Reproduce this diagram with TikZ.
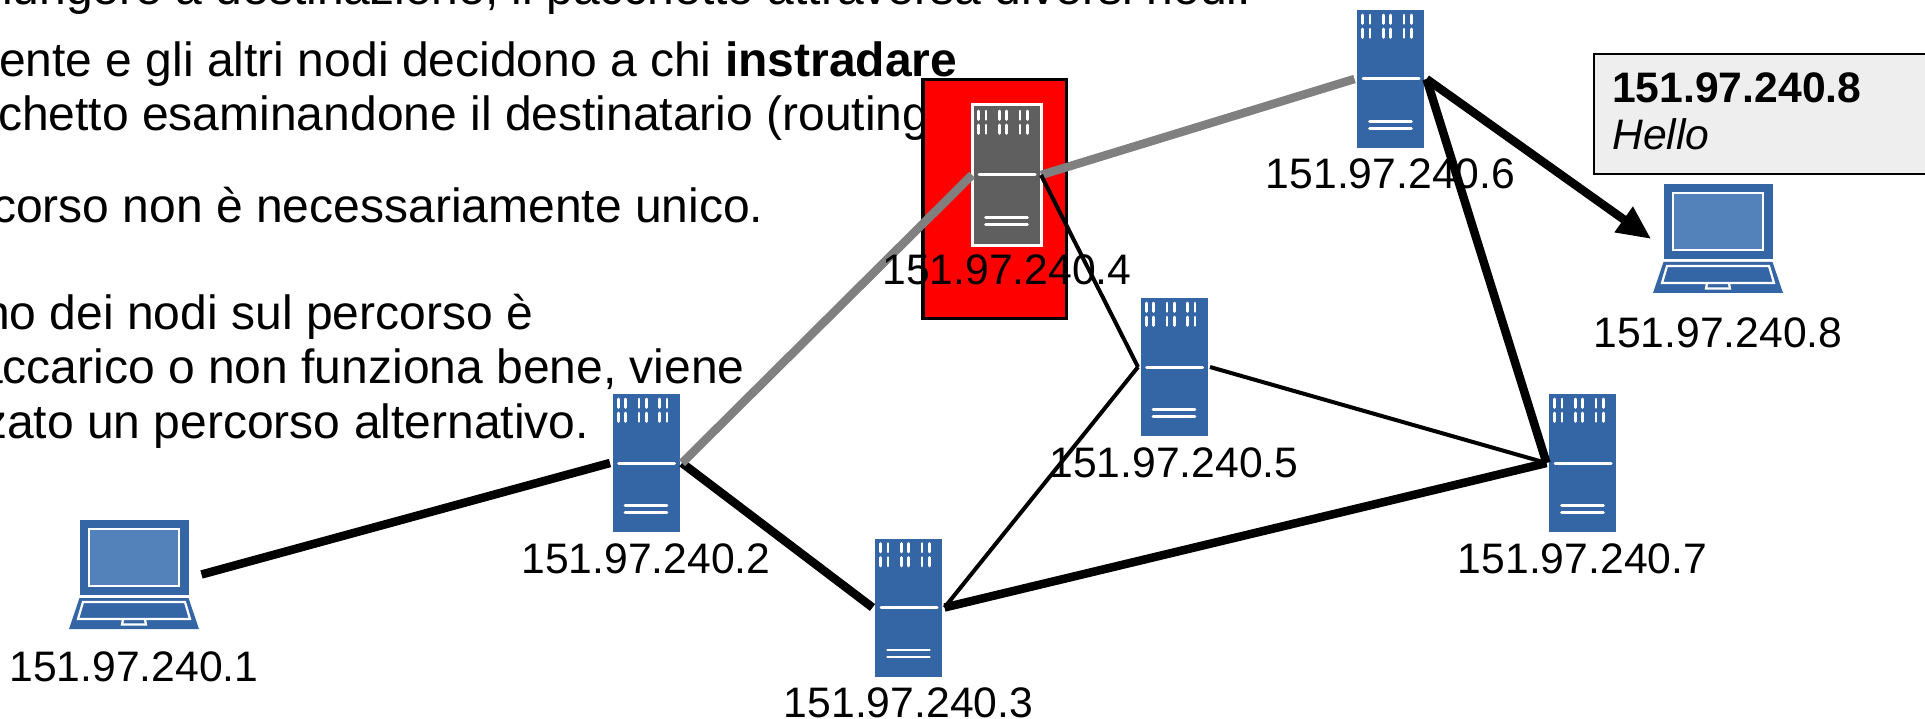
\documentclass[tikz,border=0pt]{standalone}
\usepackage{fontspec}
\setmainfont{Liberation Sans}
\usetikzlibrary{calc}
\definecolor{srvblue}{HTML}{3465A4}
\definecolor{scrblue}{HTML}{5382BA}
\definecolor{srvdark}{HTML}{5F5F5F}
\definecolor{boxgray}{HTML}{EEEEEE}
\definecolor{wiregray}{HTML}{808080}
\tikzset{
  x=1pt,y=-1pt,
  srvnode/.style={rectangle,fill=srvblue,minimum width=67pt,minimum height=138pt,inner sep=0pt,outer sep=2.5pt},
  srvhot/.style={rectangle,fill=srvdark,draw=white,line width=3pt,minimum width=69pt,minimum height=141pt,inner sep=0pt,outer sep=0pt},
  lapnode/.style={rectangle,minimum width=130pt,minimum height=109pt,inner sep=0pt,outer sep=2.5pt},
  iplabel/.style={anchor=base,font=\fontsize{42.67}{48}\selectfont,inner sep=0pt},
  para/.style={anchor=base west,font=\fontsize{48}{54}\selectfont,inner sep=0pt},
  thickw/.style={line width=8.5pt,black},
  thinw/.style={line width=4pt,black},
  grayw/.style={line width=8.5pt,wiregray},
  slit/.style={draw=white,line width=2.6pt,line cap=round},
  lapout/.style={draw=white,line width=2.2pt}
}
\newcommand{\srvdeco}[1]{%
  \foreach \cx in {-27.8,-20.5,-7,0.2,13.5,20.8}{
    \draw[slit] ([shift={(\cx,-64)}]#1.center) -- ([shift={(\cx,-55.5)}]#1.center);
    \draw[slit] ([shift={(\cx,-50)}]#1.center) -- ([shift={(\cx,-41.5)}]#1.center);
  }
  \draw[slit,line width=3pt] ([shift={(-27.5,0)}]#1.center) -- ([shift={(28.5,0)}]#1.center);
  \draw[slit,line width=2.6pt] ([shift={(-21,42.3)}]#1.center) -- ([shift={(21,42.3)}]#1.center);
  \draw[slit,line width=2.6pt] ([shift={(-21,49.3)}]#1.center) -- ([shift={(21,49.3)}]#1.center);
}
\newcommand{\lapdeco}[1]{%
  \fill[srvblue] ([shift={(-54.5,-54.5)}]#1.center) rectangle ([shift={(54.5,20.5)}]#1.center);
  \fill[srvblue] ([shift={(-54.5,23.5)}]#1.center) -- ([shift={(54.5,23.5)}]#1.center) -- ([shift={(65,54.5)}]#1.center) -- ([shift={(-65,54.5)}]#1.center) -- cycle;
  \draw[lapout,fill=scrblue] ([shift={(-45,-45.5)}]#1.center) rectangle ([shift={(45,11.5)}]#1.center);
  \draw[lapout] ([shift={(-51,27.5)}]#1.center) -- ([shift={(51,27.5)}]#1.center) -- ([shift={(56,44.5)}]#1.center) -- ([shift={(-56,44.5)}]#1.center) -- cycle;
  \draw[lapout] ([shift={(-11,45)}]#1.center) -- ([shift={(-12,50)}]#1.center) -- ([shift={(12,50)}]#1.center) -- ([shift={(11,45)}]#1.center);
}
\begin{document}
\begin{tikzpicture}
\useasboundingbox (0,0) rectangle (1925,719);
\clip (0,0) rectangle (1925,719);
% text
\node[para] (p0) at (-94,5) {raggiungere a destinazione, il pacchetto attraversa diversi nodi.};
\node[para] (p1) at (-1,77) {ente e gli altri nodi decidono a chi \textbf{instradare}};
\node[para] (p2) at (-2,131) {chetto esaminandone il destinatario (routing};
\node[para] (p3) at (-8,223) {corso non è necessariamente unico.};
\node[para] (p4) at (-17,330) {no dei nodi sul percorso è};
\node[para] (p5) at (-24,383.5) {accarico o non funziona bene, viene};
\node[para] (p6) at (-17,438) {zato un percorso alternativo.};
% red box
\node[rectangle,fill=red,draw=black,line width=3.5pt,minimum width=143.5pt,minimum height=239pt,inner sep=0pt] (redbox) at (994.5,199) {};
% servers
\node[srvnode] (s2) at (646,463) {};
\node[srvnode] (s3) at (908.5,607.5) {};
\node[srvhot] (s4) at (1006.5,175) {};
\node[srvnode] (s5) at (1174,367) {};
\node[srvnode] (s6) at (1390.5,79) {};
\node[srvnode] (s7) at (1582.5,463) {};
\srvdeco{s2}\srvdeco{s3}\srvdeco{s4}\srvdeco{s5}\srvdeco{s6}\srvdeco{s7}
% laptops
\node[lapnode] (l1) at (134,574.5) {};
\node[lapnode] (l8) at (1718,238.5) {};
\lapdeco{l1}\lapdeco{l8}
% message box
\node[rectangle,fill=boxgray,draw=black,line width=2.5pt,minimum width=400pt,minimum height=120pt,inner sep=0pt] (msg) at (1794,114) {};
\node[anchor=base west,font=\fontsize{42.67}{48}\selectfont\bfseries,inner sep=0pt] (m1) at (1612,103) {151.97.240.8};
\node[anchor=base west,font=\fontsize{42.67}{48}\selectfont\itshape,inner sep=0pt] (m2) at (1612,150) {Hello};
% connectors
\draw[thickw] (l1.east) -- (s2.west);
\draw[thickw] (s2.east) -- (s3.west);
\draw[grayw] (s2.east) -- (s4.west);
\draw[grayw] (s4.east) -- (s6.west);
\draw[thinw] (s4.east) -- (s5.west);
\draw[thinw] (s5.west) -- (s3.east);
\draw[thinw] (s5.east) -- (s7.west);
\draw[thickw] (s3.east) -- (s7.west);
\draw[thickw] (s7.west) -- (s6.east);
\draw[thickw,shorten >=30pt] (s6.east) -- (l8.west);
\path (s6.east) -- (l8.west) coordinate[pos=0.88] (headc);
\fill[black] (l8.west) -- ($(headc)!16pt!90:(l8.west)$) -- ($(headc)!16pt!-90:(l8.west)$) -- cycle;
% labels
\node[iplabel] (t1) at (134,681) {151.97.240.1};
\node[iplabel] (t2) at (646,573.5) {151.97.240.2};
\node[iplabel] (t3) at (908.5,717) {151.97.240.3};
\node[iplabel] (t4) at (1007,285) {151.97.240.4};
\node[iplabel] (t5) at (1174,477) {151.97.240.5};
\node[iplabel] (t6) at (1390.5,189) {151.97.240.6};
\node[iplabel] (t7) at (1582.5,573.5) {151.97.240.7};
\node[iplabel] (t8) at (1718,348) {151.97.240.8};
\end{tikzpicture}
\end{document}
